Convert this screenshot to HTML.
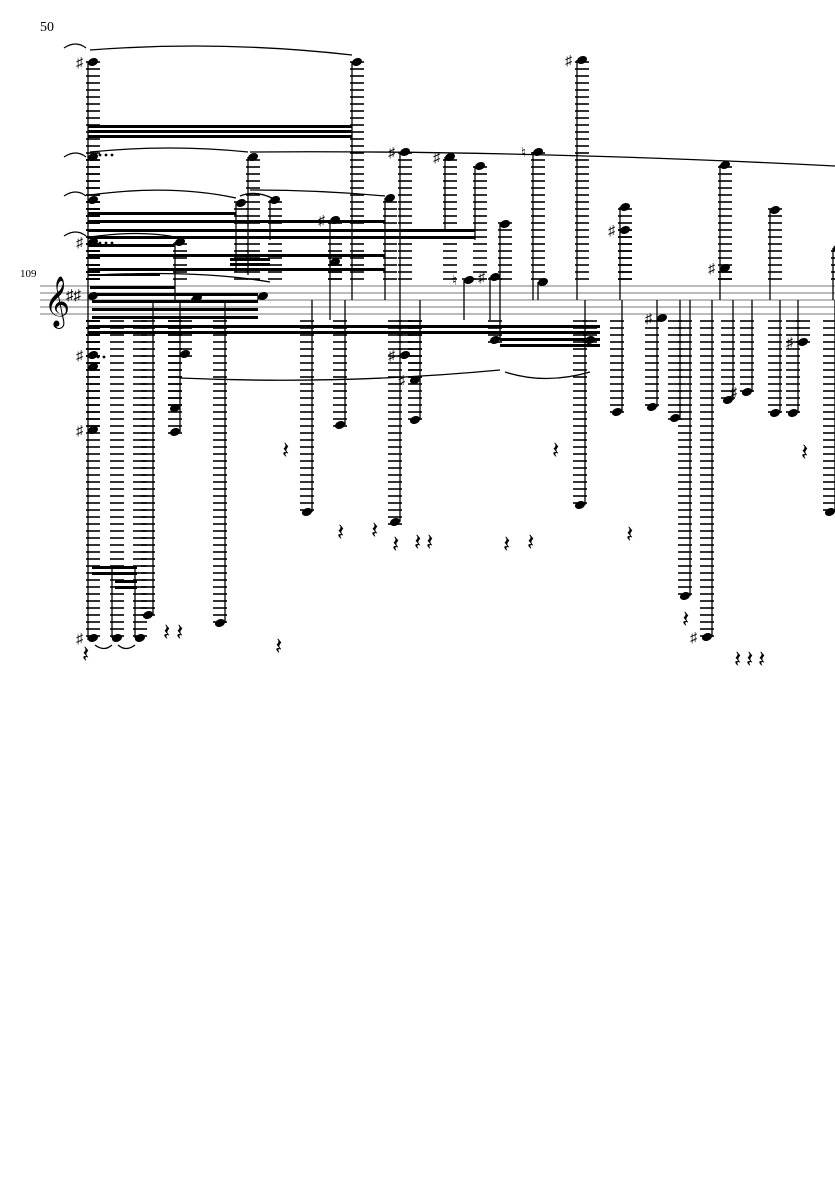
<!DOCTYPE html>
<html><head><meta charset="utf-8"><style>
html,body{margin:0;padding:0;background:#fff;width:835px;height:1181px;overflow:hidden}
svg{display:block}
text{font-family:"Liberation Serif",serif;fill:#000}
</style></head><body>
<svg id="s" width="835" height="1181" viewBox="0 0 835 1181" xmlns="http://www.w3.org/2000/svg">
<text x="40" y="31" font-size="14">50</text>
<text x="20" y="277" font-size="11">109</text>
<g id="staff" stroke="#777" stroke-width="1">
<line x1="40" y1="286" x2="835" y2="286"/><line x1="40" y1="293" x2="835" y2="293"/><line x1="40" y1="300" x2="835" y2="300"/><line x1="40" y1="307" x2="835" y2="307"/><line x1="40" y1="314" x2="835" y2="314"/>
</g>
<text x="44" y="316" font-size="44" font-family="DejaVu Sans">𝄞</text>
<text x="66" y="300" font-size="15" font-family="DejaVu Sans">♯♯</text>
<g id="g"></g>
</svg>
<script>
const g=document.getElementById('g');const NS='http://www.w3.org/2000/svg';
function el(t,a){const e=document.createElementNS(NS,t);for(const k in a)e.setAttribute(k,a[k]);g.appendChild(e);return e;}
function line(x1,y1,x2,y2,w){el('line',{x1,y1,x2,y2,stroke:'#000','stroke-width':w||1.2});}
function ledgers(x,y){
  if(y<286){for(let yy=279;yy>=y-2;yy-=7)line(x-7,yy,x+7,yy,1.6);}
  else if(y>314){for(let yy=321;yy<=y+2;yy+=7)line(x-7,yy,x+7,yy,1.6);}
}
function head(x,y,acc){el('ellipse',{cx:x,cy:y,rx:5.2,ry:3.8,transform:`rotate(-22 ${x} ${y})`,fill:'#000'});
  if(acc){const t=el('text',{x:x-17,y:y+5,'font-size':14,'font-family':'DejaVu Sans'});t.textContent=acc;}}
const N=[
[88,[62,157,200,242,296,355,367,430,638],62,640],
[352,[62],62,300],[248,[157],157,275],[236,[203],203,272],[270,[200],200,240],[175,[242],242,300],
[400,[152],152,300],[445,[157],157,230],[475,[166],166,240],[385,[198],198,300],[330,[220,262],220,320],
[500,[224],224,300],[533,[152],152,300],[577,[60],60,300],[620,[207,230],207,300],[720,[165,268],165,300],
[770,[210],210,300],[833,[248],248,300],
[112,[638],566,638],[135,[638],566,638],[153,[615],300,615],[180,[432,408,354],300,432],[225,[623],300,623],
[192,[298],300,298],[258,[296],296,300],[312,[512],300,512],[345,[425],300,425],[400,[522,355],300,522],[420,[420,380],300,420],
[464,[280],280,320],[490,[277],277,320],[500,[340],300,340],[538,[282],282,300],[585,[505,340],300,505],
[622,[412],300,412],[657,[407,318],300,407],[680,[418],300,418],[690,[596],300,596],[712,[637],300,637],
[733,[400],300,400],[752,[392],300,392],[780,[413],300,413],[798,[413,342],300,413],[835,[512],300,512]
];
const ACC={'88,62':'♯','88,242':'♯','88,355':'♯','88,430':'♯','88,638':'♯','330,220':'♯','400,152':'♯','445,157':'♯','533,152':'♮','577,60':'♯','620,230':'♯','720,268':'♯','225,298':'♯','400,355':'♯','420,380':'♯','464,280':'♮','490,277':'♯','657,318':'♯','712,637':'♯','752,392':'♯','798,342':'♯'};
for(const [x,ys,a,b] of N){
  const mid=(a+b)/2;
  const off=y=>(x===88?5:(y>mid&&b>a&&a<=300&&y>300)?-5:5);
  for(const y of ys){ledgers(x+off(y),y);}
  line(x,Math.min(a,b),x,Math.max(a,b),1.3);
  for(const y of ys){head(x+off(y),y,ACC[x+','+y]);}
}
const B=[[88,125,352,128],[88,130,352,133],[88,135,352,138],
[88,212,236,215],[88,220,385,223],[88,229,475,232],[88,236,475,239],[88,244,175,247],
[88,254,385,257],[230,258,270,261],[230,263,270,266],[88,268,385,271],[88,274,160,276],
[90,286,175,289],[90,293,258,296],[92,300,258,303],[92,308,258,311],[92,316,258,319],
[88,325,600,328],[88,331,600,334],[500,338,600,341],[500,344,600,347],
[92,566,137,569],[92,572,137,575],[115,580,137,583],[115,586,137,589]];
for(const [x1,y1,x2,y2] of B)el('rect',{x:x1,y:y1,width:x2-x1,height:y2-y1,fill:'#000'});
const T=['M90 50 Q220 40 352 55','M90 152 Q170 144 248 152','M250 152 Q520 150 835 166','M90 195 Q170 184 236 198','M240 196 Q255 190 272 198','M250 190 Q320 190 385 196','M90 237 Q140 230 175 237','M95 275 Q200 270 270 282','M180 378 Q340 385 500 370','M505 372 Q545 385 590 372','M95 645 Q104 652 112 645','M118 645 Q126 652 135 645'];
for(const d of T)el('path',{d,fill:'none',stroke:'#000','stroke-width':1.3});
for(const [x,y] of [[64,48],[64,157],[64,196],[64,236]]){el('path',{d:`M${x} ${y} Q${x+12} ${y-8} ${x+22} ${y}`,fill:'none',stroke:'#000','stroke-width':1.3});}
for(const [x,y] of [[100,155],[106,155],[112,155],[100,243],[106,243],[112,243],[98,357],[104,357]])el('circle',{cx:x,cy:y,r:1.4,fill:'#000'});
for(const [x,y] of [[288,456],[343,538],[377,536],[398,550],[420,548],[432,548],[509,550],[558,456],[281,652],[688,625],[807,458],[740,665],[752,665],[764,665],[169,638],[182,638],[533,548],[632,540],[88,660]]){
 const t=el('text',{x:x-6,y:y+2,'font-size':24,'font-family':'DejaVu Sans'});t.textContent='𝄽';}
</script>
</body></html>
